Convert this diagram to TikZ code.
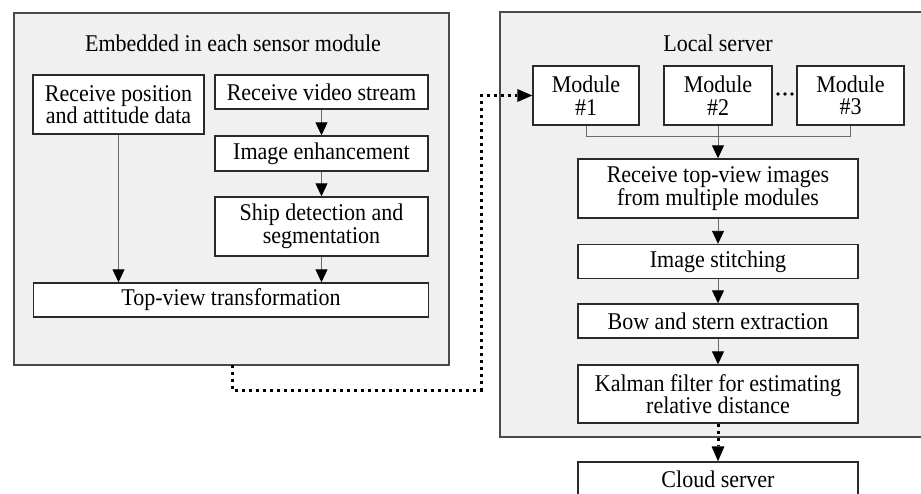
\documentclass[tikz,border=0pt]{standalone}
\usepackage{fontspec}
\setmainfont{Liberation Serif}[FakeStretch=0.917]
\usetikzlibrary{arrows.meta}
\definecolor{outerfill}{HTML}{F0F0F0}
\definecolor{outerline}{HTML}{4A4A4A}
\definecolor{boxline}{HTML}{2A2A2A}
\definecolor{conn}{HTML}{6A6A6A}
\tikzset{
  outerbox/.style={draw=outerline, fill=outerfill, line width=1.4pt},
  procbox/.style={draw=boxline, fill=white, line width=1.4pt, align=center, inner sep=2pt,
    font=\fontsize{24}{22.5}\selectfont},
  titletext/.style={font=\fontsize{24}{22.5}\selectfont, inner sep=0pt},
  flow/.style={draw=conn, line width=0.9pt, -{Triangle[width=12pt,length=13pt,color=black]}},
  plainline/.style={draw=conn, line width=0.9pt},
  dotline/.style={draw=black, line width=3pt, dash pattern=on 3pt off 4pt},
  dotarrow/.style={dotline, -{Triangle[width=13pt,length=15pt,color=black,line width=0pt]}},
}
\begin{document}
\begin{tikzpicture}[x=1pt,y=-1pt]
\useasboundingbox (0,0) rectangle (921,493);
\fill[white] (0,0) rectangle (921,493);
\clip (0,0) rectangle (921,493);

% outer containers
\draw[outerbox] (14,13) rectangle (449,365);
\draw[outerbox] (500,12) rectangle (940,437);
\coordinate (embbot) at (232,365);

\node[titletext] (embtitle) at (233,43) {Embedded in each sensor module};
\node[titletext] (loctitle) at (718,43) {Local server};

% left column
\node[procbox, minimum width=171pt, minimum height=59pt] (pos) at (118.5,104.5)
  {Receive position\\and attitude data};
\node[procbox, minimum width=213pt, minimum height=34pt] (video) at (321.5,92)
  {Receive video stream};
\node[procbox, minimum width=213pt, minimum height=35pt] (enh) at (321.5,153.5)
  {Image enhancement};
\node[procbox, minimum width=213pt, minimum height=59pt] (ship) at (321.5,226.5)
  {Ship detection and\\segmentation};
\node[procbox, minimum width=395pt, minimum height=34pt] (top) at (231,300)
  {Top-view transformation};

\draw[flow] (video) -- (enh);
\draw[flow] (enh) -- (ship);
\draw[flow] (ship) -- (ship |- top.north);
\draw[flow] (pos) -- (pos |- top.north);

% right column
\node[procbox, minimum width=106pt, minimum height=59pt] (m1) at (586,95.5) {Module\\\#1};
\node[procbox, minimum width=108pt, minimum height=59pt] (m2) at (718,95.5) {Module\\\#2};
\node[procbox, minimum width=107pt, minimum height=59pt] (m3) at (850.5,95.5) {Module\\\#3};
\fill (778,94) circle (1.9pt) (785,94) circle (1.9pt) (792,94) circle (1.9pt);

\node[procbox, minimum width=280pt, minimum height=59pt] (recv) at (718,188.5)
  {Receive top-view images\\from multiple modules};
\node[procbox, minimum width=280pt, minimum height=34pt] (stitch) at (718,261.5)
  {Image stitching};
\node[procbox, minimum width=280pt, minimum height=34pt] (bow) at (718,321)
  {Bow and stern extraction};
\node[procbox, minimum width=280pt, minimum height=58pt] (kal) at (718,394)
  {Kalman filter for estimating\\relative distance};
\node[procbox, minimum width=280pt, minimum height=34pt] (cloud) at (718,479)
  {Cloud server};

\draw[plainline] (m1.south) -- ++(0,11) -| (m3.south);
\draw[flow] (m2) -- (recv);
\draw[flow] (recv) -- (stitch);
\draw[flow] (stitch) -- (bow);
\draw[flow] (bow) -- (kal);

% dotted links
\coordinate (turn) at (481,390);
\draw[dotarrow] (embbot) |- (turn) |- (m1.west);
\draw[dotarrow] (kal) -- (cloud);
\end{tikzpicture}
\end{document}
